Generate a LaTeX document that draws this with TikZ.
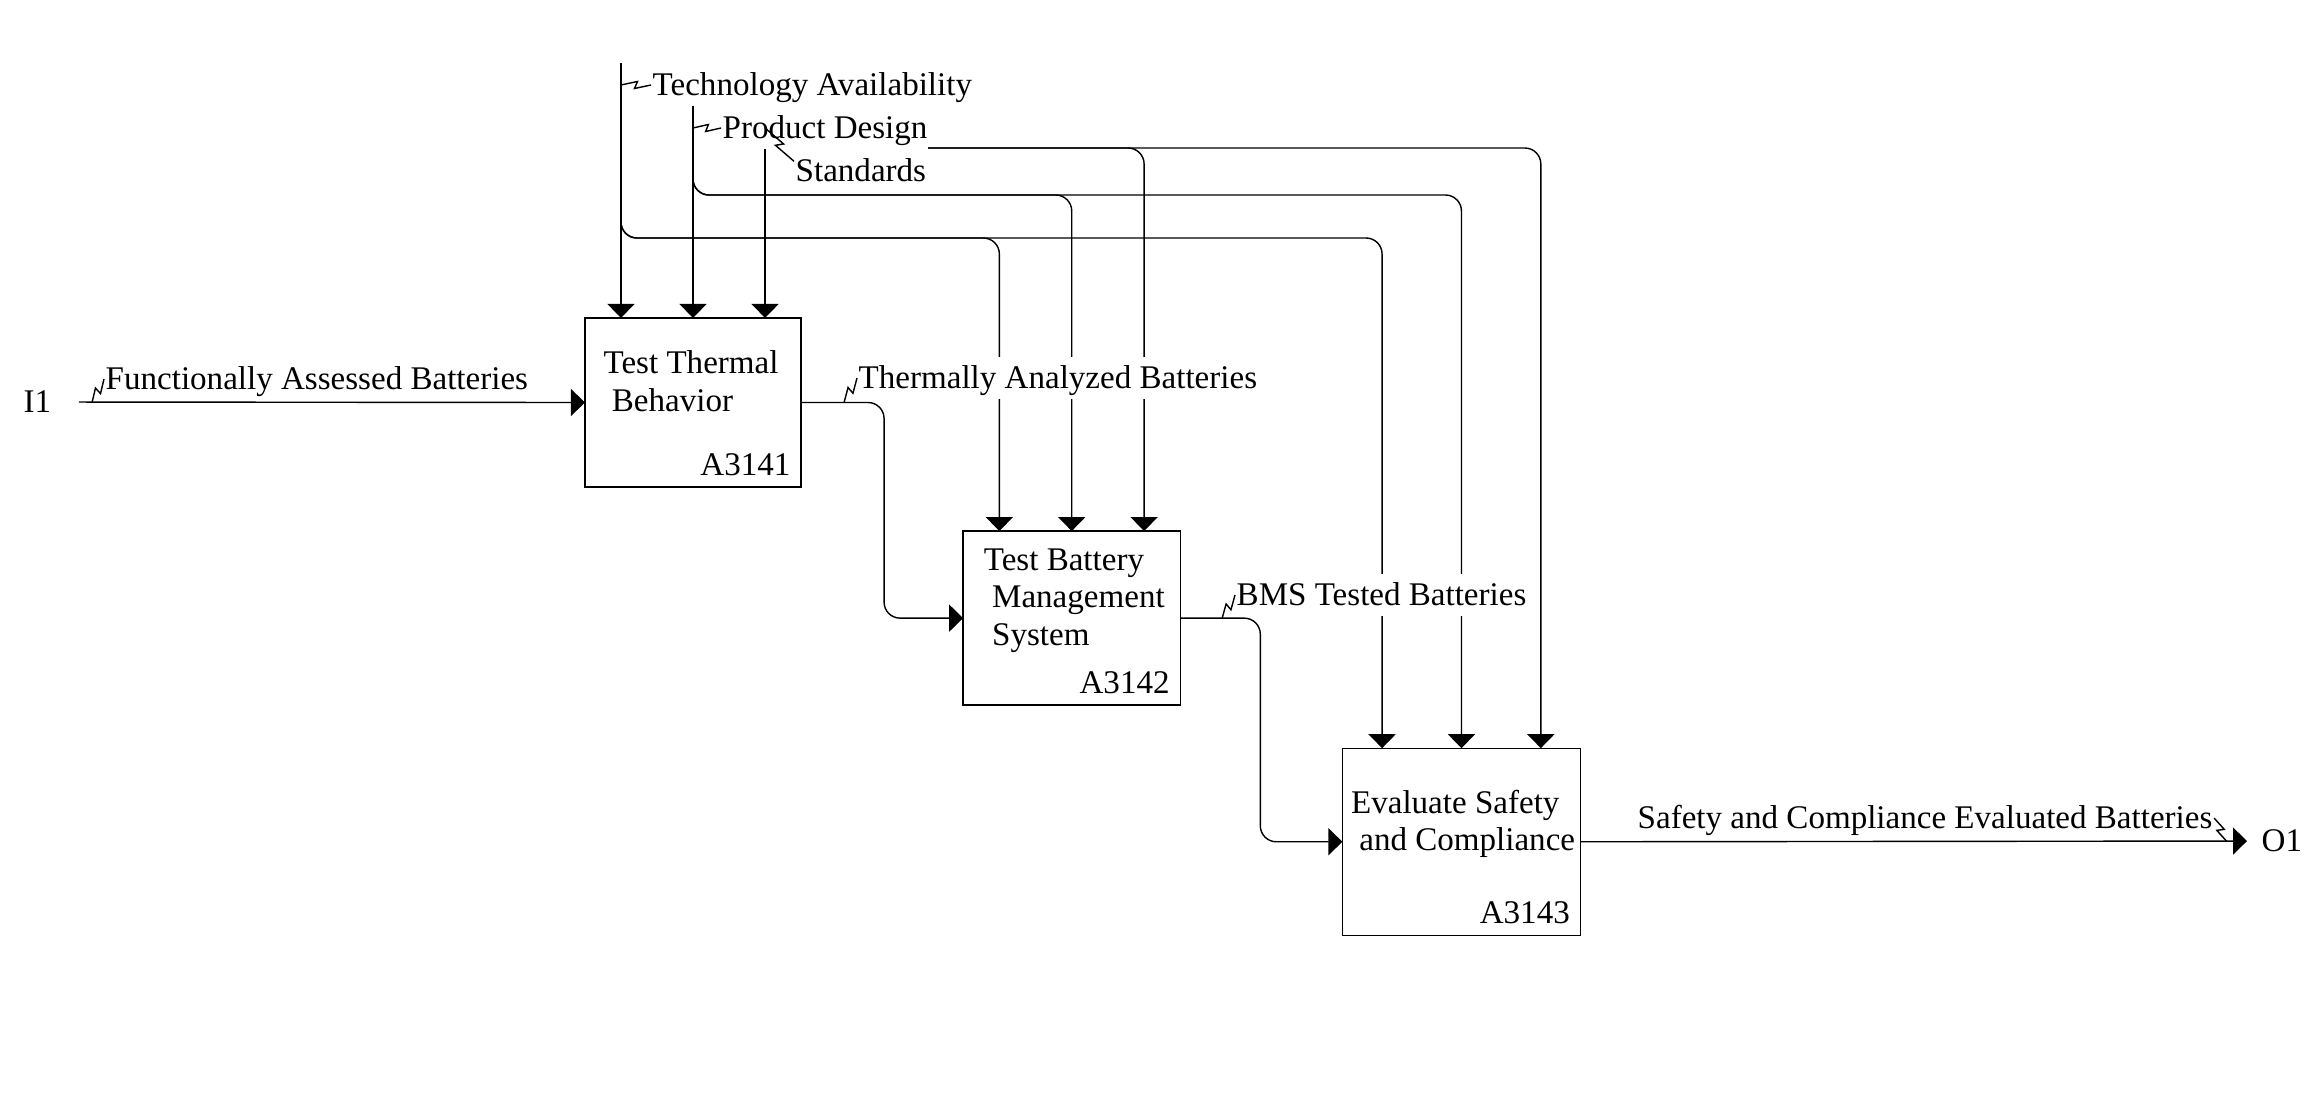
\documentclass[tikz,border=0pt]{standalone}
\usepackage{fontspec}
\setmainfont{Liberation Serif}
\usetikzlibrary{arrows.meta,positioning,calc}

\tikzset{
  fn/.style={draw, rectangle, inner sep=0pt, outer sep=0pt},
  fn name/.style={inner sep=0pt, align=flush left, text width=2.4cm, anchor=base west},
  fn id/.style={inner sep=0pt, anchor=base east},
  arc label/.style={fill=white, inner xsep=0.01cm, inner ysep=0pt,
    text height=0.31cm, text depth=0.11cm, anchor=base west}
}
% idef0 tilde between a label and its arrow
\newcommand{\squig}[2]{\draw (#1) coordinate (sq-a) (#2) coordinate (sq-b)
  (sq-a) -- ($(sq-a)!0.55!(sq-b)!0.035cm!90:(sq-b)$)
  -- ($(sq-a)!0.45!(sq-b)!0.035cm!-90:(sq-b)$) -- (sq-b);}

\begin{document}
\begin{tikzpicture}[x=0.01cm,y=-0.01cm,line width=0.4pt,
    >={Triangle[length=0.14cm,width=0.27cm]},
    font=\fontsize{9.4pt}{10.7pt}\selectfont,
    node distance=0.44cm and 1.62cm]
    \useasboundingbox (0,0) rectangle (2304,1103);

    \node[fn, minimum width=2.16cm, minimum height=1.69cm] (a1) at (693,402.5) {};
    \node[fn, minimum width=2.17cm, minimum height=1.74cm] (a2) [below right=of a1] {};
    \node[fn, minimum width=2.38cm, minimum height=1.87cm] (a3) [below right=0.43cm and 1.62cm of a2] {};

    \node[fn name] (a1t) at ([shift={(18,56)}]a1.north west) {Test Thermal\\\hspace*{0.25em}Behavior};
    \node[fn name] (a2t) at ([shift={(20,39)}]a2.north west) {Test Battery\\\hspace*{0.25em}Management\\\hspace*{0.25em}System};
    \node[fn name] (a3t) at ([shift={(8,65)}]a3.north west) {Evaluate Safety\\\hspace*{0.25em}and Compliance};

    \foreach \b/\n in {a1/A3141, a2/A3142, a3/A3143}
        \node[fn id] (\b id) at ([shift={(-10,-12)}]\b.south east) {\n};

    % control points on the top of each box
    \foreach \b in {a1,a2,a3} {
        \coordinate (\b-c1) at ($(\b.north west)!1/6!(\b.north east)$);
        \coordinate (\b-c2) at (\b.north);
        \coordinate (\b-c3) at ($(\b.north west)!5/6!(\b.north east)$);
    }
    \coordinate (ta) at (a1-c1 |- 0,63);
    \coordinate (pd) at (a1-c2 |- 0,85);
    \coordinate (st) at (a1-c3 |- 0,130);

    \draw[->] (ta) -- (a1-c1);
    \draw[->] (pd) -- (a1-c2);
    \draw[->] (st) -- (a1-c3);
    \foreach \c/\k/\y in {ta/c1/238, pd/c2/195, st/c3/148}
        \foreach \b in {a2,a3}
            \draw[->, rounded corners=0.16cm] (\c) |- (\b-\k |- 0,\y) -- (\b-\k);

    \draw[->, rounded corners=0.16cm] (a1.east) -- ++(83,0) |- (a2.west);
    \draw[->, rounded corners=0.16cm] (a2.east) -- ++(80,0) |- (a3.west);

    \node[arc label] (i1) at (22,412) {I1};
    \node[arc label] (o1) at (2260,851) {O1};
    \node[arc label] (fab) at (104,389) {Functionally Assessed Batteries};
    \node[arc label] (tal) at (651,95) {Technology Availability};
    \node[arc label] (pdl) at (721,138) {Product Design};
    \node[arc label] (stl) at (794,181) {Standards};
    \node[arc label] (tab) at (857,388) {Thermally Analyzed Batteries};
    \node[arc label] (btb) at (1235,605) {BMS Tested Batteries};
    \node[arc label] (scb) at (1636,828) {Safety and Compliance Evaluated Batteries};

    \draw[->, shorten <=0.26cm] (i1) -- (a1.west);
    \draw[->, shorten >=0.13cm] (a3.east) -- (o1);

    \squig{fab.west}{[shift={(-12,2)}]fab.south west}
    \squig{tal.west}{ta |- tal.west}
    \squig{pdl.west}{pd |- pdl.west}
    \squig{[yshift=-0.12cm]stl.north west}{st |- pdl.west}
    \squig{tab.west}{[shift={(-13,3)}]tab.south west}
    \squig{btb.west}{[shift={(-13,2)}]btb.south west}
    \squig{scb.east}{[shift={(13,2)}]scb.south east}
\end{tikzpicture}
\end{document}
